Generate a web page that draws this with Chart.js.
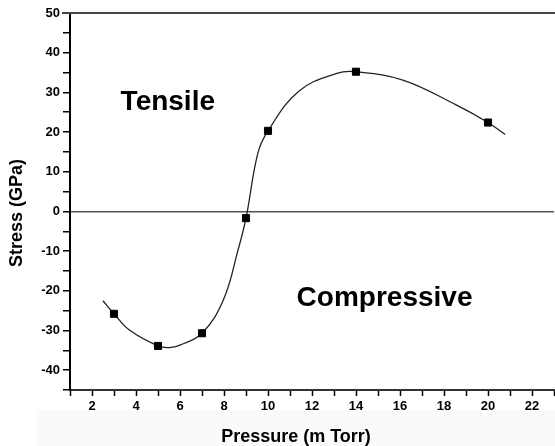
<!DOCTYPE html>
<html>
<head>
<meta charset="utf-8">
<script src="https://cdn.jsdelivr.net/npm/chart.js@4"></script>
<style>
  body { margin: 0; background: #fff; }
  #wrap { width: 555px; height: 446px; overflow: hidden; }
</style>
</head>
<body>
<div id="wrap"><canvas id="Stress" width="560" height="446"></canvas></div>
<script>
// measured points
var pressure = [3, 5, 7, 9, 10, 14, 20];
var stress = [-25.8, -33.9, -30.7, -1.7, 20.3, 35.2, 22.4];

// fitted curve
var fitPressure = [2.5, 3, 3.7, 5, 5.5, 6, 7, 7.97, 8.64, 9, 9.54, 10, 11.4, 13.13, 14, 16.13, 18.53, 20, 20.78];
var fitStress = [-22.5, -25.8, -29.9, -33.9, -34.3, -33.7, -30.7, -22.3, -9.7, -1.7, 14.7, 20.3, 30.3, 34.8, 35.2, 33.1, 26.9, 22.4, 19.4];

var xTicks = [2, 4, 6, 8, 10, 12, 14, 16, 18, 20, 22];
var yTicks = [-40, -30, -20, -10, 0, 10, 20, 30, 40, 50];

var regions = [
  { text: 'Tensile', x: 3.3, y: 27.4 },
  { text: 'Compressive', x: 11.3, y: -21.8 }
];

function pts(xs, ys) {
  return xs.map(function (x, i) { return { x: x, y: ys[i] }; });
}

var family = '"Liberation Sans", Arial, sans-serif';
function f(s) { return 'bold ' + s + 'px ' + family; }

var extras = {
  id: 'extras',
  beforeDraw: function (chart) {
    var c = chart.ctx;
    c.save();
    c.fillStyle = '#fafafa';
    c.fillRect(36, 410, chart.width, chart.height - 410);
    c.restore();
  },
  afterDraw: function (chart) {
    var c = chart.ctx, xs = chart.scales.x, ys = chart.scales.y;
    c.save();
    // top frame
    c.strokeStyle = '#444';
    c.lineWidth = 2;
    c.beginPath();
    c.moveTo(62, chart.chartArea.top);
    c.lineTo(chart.width, chart.chartArea.top);
    c.stroke();
    c.fillStyle = '#000';
    c.font = f(28);
    c.textBaseline = 'middle';
    c.textAlign = 'left';
    regions.forEach(function (r) {
      c.fillText(r.text, xs.getPixelForValue(r.x), ys.getPixelForValue(r.y));
    });
    // axis titles
    c.font = f(18);
    c.textAlign = 'center';
    c.fillText('Pressure (m Torr)', 296, 437);
    c.translate(17, 213);
    c.rotate(-Math.PI / 2);
    c.fillText('Stress (GPa)', 0, 0);
    c.restore();
  }
};

var ctx = document.getElementById('Stress').getContext('2d');
var chart = new Chart(ctx, {
  type: 'scatter',
  data: {
    datasets: [{
      label: 'fit',
      data: pts(fitPressure, fitStress),
      showLine: true,
      tension: 0.4,
      borderColor: '#222',
      borderWidth: 1.3,
      pointRadius: 0,
      order: 2
    }, {
      label: 'measured',
      data: pts(pressure, stress),
      pointStyle: 'rect',
      pointRadius: 5,
      backgroundColor: '#000',
      borderColor: '#000',
      borderWidth: 1,
      order: 1
    }]
  },
  plugins: [extras],
  options: {
    responsive: false,
    animation: false,
    layout: { padding: { top: 13, right: 0, left: 0, bottom: 0 } },
    plugins: { legend: { display: false }, tooltip: { enabled: false } },
    scales: {
      x: {
        type: 'linear',
        min: 1,
        max: 23,
        afterFit: function (s) { s.height = 56; },
        border: { display: true, color: '#333', width: 2 },
        grid: { drawOnChartArea: false, tickColor: '#000', tickLength: 6, tickWidth: 1.5 },
        ticks: {
          stepSize: 1,
          autoSkip: false,
          maxRotation: 0,
          padding: 3,
          color: '#000',
          font: { family: family, size: 13, weight: 'bold' },
          callback: function (v) { return xTicks.indexOf(v) >= 0 ? String(v) : ''; }
        }
      },
      y: {
        min: -45,
        max: 50,
        afterFit: function (s) { s.width = 70; },
        border: { display: true, color: '#000', width: 2 },
        grid: {
          drawOnChartArea: true,
          color: function (c) { return c.tick && c.tick.value === 0 ? '#555' : 'rgba(0,0,0,0)'; },
          lineWidth: 1.5,
          tickColor: '#000',
          tickLength: 7,
          tickWidth: 1.5
        },
        ticks: {
          stepSize: 5,
          autoSkip: false,
          padding: 3,
          color: '#000',
          font: { family: family, size: 13, weight: 'bold' },
          callback: function (v) { return yTicks.indexOf(v) >= 0 ? String(v) : ''; }
        }
      }
    }
  }
});
</script>
</body>
</html>
